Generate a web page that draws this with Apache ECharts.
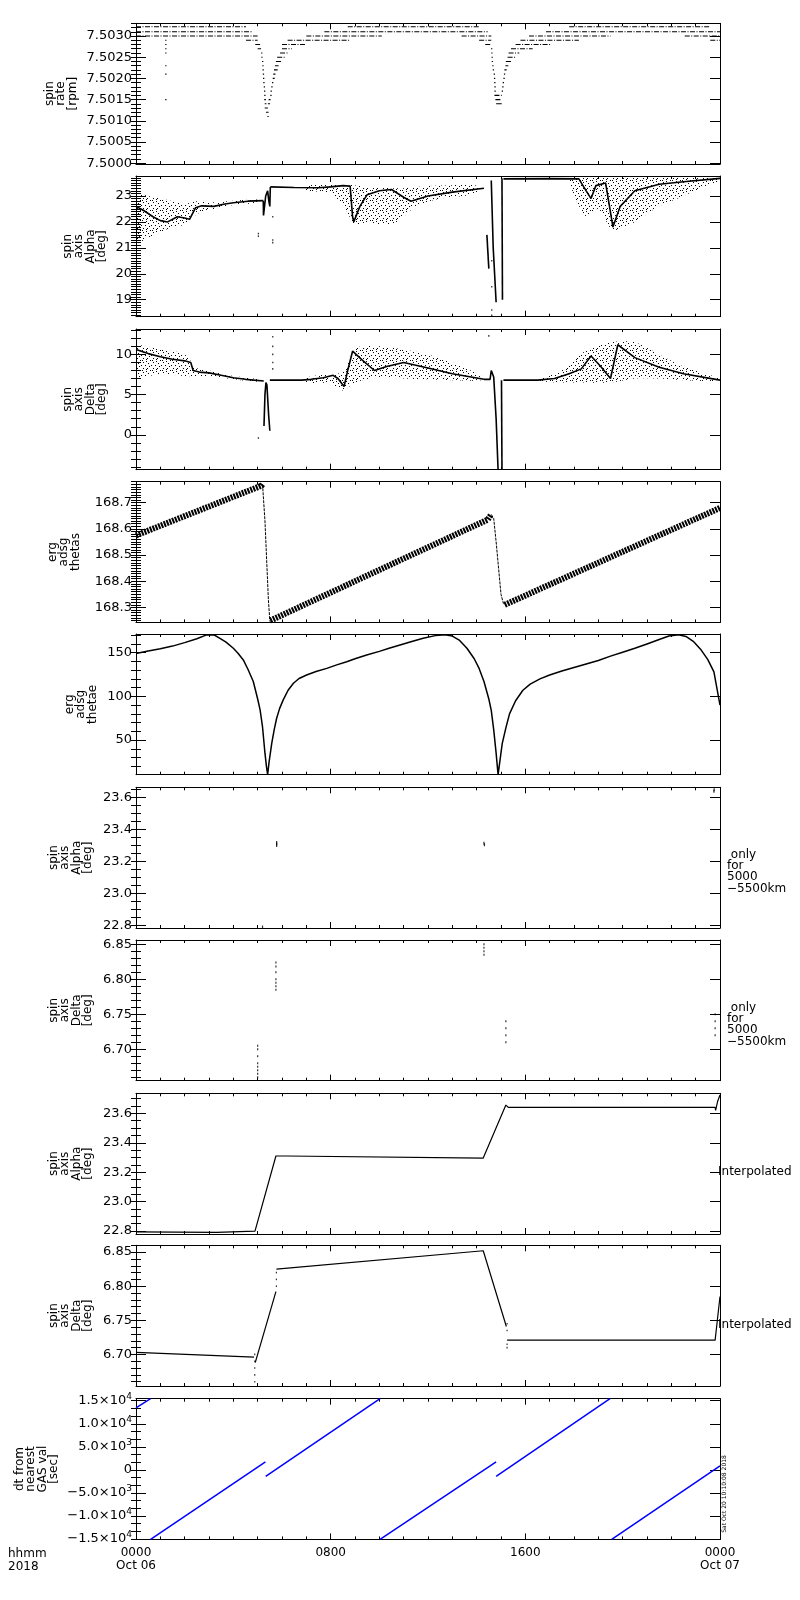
<!DOCTYPE html>
<html><head><meta charset="utf-8">
<script src="https://cdn.jsdelivr.net/npm/echarts@6/dist/echarts.min.js"></script>
<style>html,body{margin:0;padding:0;background:#fff}#c{width:800px;height:1600px}</style>
</head><body><div id="c"></div><script>
// ---------------- DATA ----------------
const xTicks = [0, 8, 16, 24];
const xTickLabels = ['0000\nOct 06', '0800', '1600', '0000\nOct 07'];

// Panel 1: spin rate, quantized levels [tStart(h), tEnd(h), rpm]
const spinRateSegs = [
 [0,4.52,7.50322],[8.7,14.1,7.50322],[17.8,23.6,7.50322],
 [0,4.8,7.5031],[7.74,14.45,7.5031],[16.85,24,7.5031],
 [0,5.0,7.5030],[7.0,10.1,7.5030],[13.38,14.6,7.5030],[16.15,19.5,7.5030],[22.55,24,7.5030],
 [4.52,5.0,7.5029],[6.23,8.77,7.5029],[14.1,14.6,7.5029],[15.8,18.2,7.5029],[23.6,24,7.5029],
 [4.9,5.1,7.5028],[6.0,7.0,7.5028],[14.35,14.6,7.5028],[15.6,17.05,7.5028],
 [5.0,5.14,7.5027],[6.0,6.4,7.5027],[14.59,14.6,7.5027],[15.41,16.3,7.5027],
 [5.14,5.15,7.5026],[5.92,6.23,7.5026],[14.6,14.6,7.5026],[15.31,15.75,7.5026],
 [5.15,5.16,7.5025],[5.8,6.17,7.5025],[14.61,14.61,7.5025],[15.27,15.62,7.5025],
 [5.18,5.18,7.5024],[5.75,5.96,7.5024],[14.62,14.62,7.5024],[15.2,15.41,7.5024],
 [5.19,5.19,7.5023],[5.71,5.86,7.5023],[14.64,14.64,7.5023],[15.18,15.3,7.5023],
 [5.2,5.2,7.5022],[5.67,5.82,7.5022],[14.66,14.66,7.5022],[15.14,15.23,7.5022],
 [5.21,5.21,7.5021],[5.64,5.73,7.5021],[14.7,14.7,7.5021],[15.12,15.12,7.5021],
 [5.22,5.22,7.5020],[5.62,5.7,7.5020],[14.71,14.71,7.5020],[15.1,15.1,7.5020],
 [5.23,5.23,7.5019],[5.59,5.6,7.5019],[14.72,14.72,7.5019],[15.07,15.07,7.5019],
 [5.25,5.25,7.5018],[5.56,5.57,7.5018],[14.73,14.73,7.5018],[15.05,15.05,7.5018],
 [5.26,5.26,7.5017],[5.53,5.54,7.5017],[14.73,14.73,7.5017],[15.03,15.03,7.5017],
 [5.27,5.27,7.5016],[5.52,5.53,7.5016],[14.73,15.03,7.5016],
 [5.27,5.34,7.5015],[5.45,5.53,7.5015],[14.77,15.03,7.5015],
 [5.29,5.36,7.5014],[5.42,5.51,7.5014],[14.8,15.03,7.5014],
 [5.29,5.42,7.5013],[5.34,5.45,7.5012],[5.4,5.41,7.5011],
 [1.2,1.2,7.5029],[1.2,1.2,7.5028],[1.2,1.2,7.5027],[1.2,1.2,7.5026],[1.2,1.2,7.5023],[1.2,1.2,7.5021],[1.2,1.2,7.5015]
];

// Panel 2: spin axis Alpha [deg]
const alphaCore1 = [[0,22.6],[0.3,22.45],[0.7,22.2],[1.0,22.05],[1.3,22.0],[1.7,22.2],[2.0,22.15],[2.2,22.1],[2.45,22.55],[2.7,22.62],[3.2,22.6],[3.6,22.68],[4.0,22.74],[4.6,22.8],[5.23,22.82]];
const alphaCore2 = [[5.23,22.82],[5.24,22.25],[5.28,22.3],[5.33,23.0],[5.41,23.2],[5.46,22.8],[5.5,22.6],[5.52,23.35]];
const alphaCore3 = [[5.52,23.35],[6.5,23.33],[7.5,23.32],[8.0,23.35],[8.5,23.4],[8.8,23.38],[8.9,22.2],[8.95,22.0],[9.2,22.6],[9.5,23.05],[10.0,23.2],[10.5,23.25],[11.0,22.95],[11.3,22.8],[12.0,23.0],[13.0,23.15],[14.3,23.3]];
const alphaCore4 = [[14.42,21.5],[14.5,20.2]];
const alphaCore5 = [[14.6,23.6],[14.68,21.0],[14.8,18.9]];
const alphaCore6 = [[15.04,23.68],[15.06,19.0]];
const alphaCore7 = [[15.1,23.66],[17.0,23.67],[18.2,23.66],[18.5,23.2],[18.7,22.9],[18.9,23.4],[19.3,23.5],[19.6,21.8],[19.9,22.6],[20.5,23.2],[21.5,23.45],[22.5,23.55],[24,23.68]];
const alphaDots = [[5.03,21.45],[5.03,21.55],[5.62,22.2],[5.62,21.3],[5.62,21.2],[14.62,20.5],[14.62,19.5],[14.62,18.6],[14.62,18.4]];
const alphaCloud1 = [[0,21.2,23.1],[0.5,21.4,23.0],[1.0,21.6,22.9],[1.5,21.8,22.8],[2.0,21.9,22.7],[2.5,22.3,22.8],[3.0,22.45,22.75],[4.0,22.65,22.82],[5.0,22.75,22.86]];
const alphaCloud2 = [[7.0,23.2,23.4],[8.0,23.1,23.45],[8.6,22.5,23.45],[9.0,21.9,23.4],[9.5,22.0,23.35],[10.0,21.9,23.35],[10.5,21.9,23.3],[11.0,22.2,23.3],[11.5,22.6,23.35],[12.5,22.9,23.4],[14.0,23.1,23.4]];
const alphaCloud3 = [[17.8,23.5,23.75],[18.5,22.2,23.75],[19.0,22.5,23.75],[19.6,21.7,23.75],[20.5,22.0,23.75],[21.5,22.6,23.75],[22.5,23.0,23.75],[23.5,23.4,23.75],[24,23.55,23.75]];

// Panel 3: spin axis Delta [deg]
const deltaCore1 = [[0,10.6],[0.5,10.1],[1.0,9.7],[1.5,9.4],[2.0,9.2],[2.25,9.0],[2.35,8.0],[2.6,7.8],[3.0,7.7],[3.5,7.4],[4.0,7.1],[4.5,6.9],[5.25,6.7]];
const deltaCore2 = [[5.26,1.1],[5.3,5.0],[5.34,6.5],[5.38,6.2],[5.45,2.5],[5.5,0.5]];
const deltaCore3 = [[5.5,6.8],[6.8,6.8],[7.2,6.9],[7.7,7.1],[8.1,7.4],[8.3,7.0],[8.55,6.0],[8.7,8.0],[8.9,10.4],[9.3,9.3],[9.8,8.0],[10.3,8.5],[11.0,9.0],[12.0,8.3],[13.0,7.6],[14.3,6.9]];
const deltaCore4 = [[14.3,6.9],[14.55,6.9],[14.6,8.0],[14.65,8.2],[14.7,7.2],[14.8,2.0],[14.88,-4.34]];
const deltaCore5 = [[15.02,6.8],[15.04,-4.34]];
const deltaCore6 = [[15.1,6.8],[16.5,6.8],[17.2,7.0],[17.8,7.6],[18.3,8.2],[18.7,9.8],[19.1,8.5],[19.5,7.0],[19.8,11.2],[20.5,9.6],[21.5,8.4],[22.5,7.6],[24,6.8]];
const deltaDots = [[5.03,-0.4],[5.62,12.2],[5.62,11.0],[5.62,10.0],[5.62,9.0],[5.62,8.2],[14.5,12.3]];
const deltaCloud1 = [[0,7.2,11.0],[1.0,7.6,10.6],[2.0,7.3,10.0],[2.5,7.3,8.3],[3.0,7.3,8.0],[4.0,6.9,7.3],[5.0,6.6,6.9]];
const deltaCloud2 = [[7.0,6.5,7.1],[8.0,6.4,7.6],[8.5,5.5,7.8],[9.0,6.5,10.7],[10.0,7.2,11.0],[11.0,7.0,10.6],[12.0,6.9,10.0],[13.0,6.8,9.0],[14.2,6.8,7.3]];
const deltaCloud3 = [[16.5,6.7,6.9],[17.5,6.5,8.0],[18.5,6.5,10.5],[19.5,6.5,11.5],[20.5,7.0,11.5],[21.5,7.0,10.0],[22.5,6.8,8.5],[24,6.7,7.0]];

// Panel 4: erg adsg thetas
const thetasRamp1 = [[0,168.575],[5.16,168.765],[5.2,168.77]];
const thetasDrop1 = [[5.2,168.77],[5.3,168.63],[5.37,168.48],[5.44,168.33],[5.5,168.25],[5.52,168.245]];
const thetasRamp2 = [[5.52,168.25],[10.85,168.48],[14.45,168.635],[14.6,168.655]];
const thetasDrop2 = [[14.6,168.655],[14.7,168.64],[14.8,168.55],[14.9,168.45],[15.0,168.35],[15.1,168.315],[15.15,168.31]];
const thetasRamp3 = [[15.15,168.31],[24,168.68]];

// Panel 5: erg adsg thetae
const thetae = [[0,149],[0.5,152],[1.0,154.5],[1.5,157.5],[2.0,161.5],[2.5,166],[2.9,170.3],[3.2,170.5],[3.45,166.4],[3.7,162],[4.0,155],[4.2,149],[4.41,141.7],[4.6,131],[4.82,117],[5.0,97],[5.1,84.6],[5.2,65],[5.3,35],[5.36,20],[5.41,10.5],[5.47,25],[5.58,46.6],[5.68,62],[5.78,75],[5.9,86],[6.05,96],[6.25,107],[6.47,115],[6.7,120.5],[7.01,124.5],[7.4,128.5],[7.84,132],[8.25,136],[8.66,139.7],[9.0,143],[9.48,147.4],[10.0,151.5],[10.4,155],[10.85,158.8],[11.3,162.5],[11.8,166.5],[12.3,169.5],[12.7,170.5],[13.0,169],[13.3,164],[13.6,155],[13.9,143],[14.1,132],[14.3,117],[14.5,97],[14.6,84],[14.7,62],[14.8,35],[14.88,10.5],[14.95,25],[15.05,46],[15.2,64],[15.35,80],[15.6,95],[15.9,107],[16.2,114],[16.6,120],[17.0,124.5],[17.5,129],[18.0,133],[18.5,137],[19.0,141],[19.5,146],[20.0,150.5],[20.5,155],[21.0,160],[21.5,165],[21.9,169],[22.3,170.5],[22.6,168.5],[22.9,163],[23.2,154],[23.5,142],[23.75,128],[24,90]];

// Panel 6: spin axis Alpha, only 5000-5500 km
const alpha5000 = [[5.2,22.79],[5.78,23.32],[5.78,23.31],[5.78,23.30],[14.3,23.315],[14.32,23.305],[23.75,23.64],[23.76,23.65]];
// Panel 7: spin axis Delta, only 5000-5500 km
const delta5000 = [[5.75,6.824],[5.75,6.818],[5.75,6.81],[5.75,6.80],[5.75,6.795],[5.75,6.79],[5.75,6.785],
 [5.0,6.705],[5.0,6.70],[5.0,6.69],[5.0,6.68],[5.0,6.675],[5.0,6.67],[5.0,6.665],[5.0,6.66],
 [14.3,6.85],[14.3,6.845],[14.3,6.84],[14.3,6.835],[15.2,6.74],[15.2,6.73],[15.2,6.72],[15.2,6.71],
 [23.8,6.75],[23.8,6.74],[23.8,6.73],[23.8,6.72]];
// Panel 8: interpolated Alpha
const alphaInterp = [[0,22.795],[3.31,22.791],[3.31,22.80],[4.89,22.80],[4.9,22.79],[5.75,23.31],[6.19,23.31],[6.2,23.30],[14.27,23.296],[15.2,23.656],[15.3,23.64],[23.8,23.64],[23.82,23.62],[23.9,23.68],[24,23.724]];
// Panel 9: interpolated Delta
const deltaInterp1 = [[0,6.703],[4.85,6.696]];
const deltaInterp2 = [[4.9,6.688],[5.75,6.792]];
const deltaInterp3 = [[5.77,6.825],[14.27,6.852],[15.22,6.741]];
const deltaInterp4 = [[15.25,6.721],[23.8,6.721],[24,6.785]];
const deltaInterpDots = [[4.88,6.70],[4.88,6.69],[4.88,6.68],[4.88,6.67],[4.88,6.66],[5.77,6.80],[5.77,6.81],[5.77,6.82],[15.25,6.745],[15.25,6.735],[15.25,6.715],[15.25,6.71]];
// Panel 10: dt from nearest GAS val [sec]
const dt1 = [[0,13465],[0.6,15435]];
const dt2 = [[0.6,-15065],[5.32,1754]];
const dt3 = [[5.33,-1381],[10.03,15435]];
const dt4 = [[10.03,-15065],[14.8,1754]];
const dt5 = [[14.8,-1381],[19.48,15435]];
const dt6 = [[19.55,-15065],[24,877]];

// Y axes: ranges, tick values, labels
const panels = [
 {min:7.49998, max:7.5033, major:[7.5000,7.5005,7.5010,7.5015,7.5020,7.5025,7.5030], labels:['7.5000','7.5005','7.5010','7.5015','7.5020','7.5025','7.5030'], step:0.0001, title:'spin\nrate\n[rpm]', tx:61},
 {min:18.344, max:23.771, major:[19,20,21,22,23], labels:['19','20','21','22','23'], step:0.1, title:'spin\naxis\nAlpha\n[deg]', tx:85},
 {min:-4.34, max:13.16, major:[0,5,10], labels:['0','5','10'], step:1, title:'spin\naxis\nDelta\n[deg]', tx:85},
 {min:168.243, max:168.780, major:[168.3,168.4,168.5,168.6,168.7], labels:['168.3','168.4','168.5','168.6','168.7'], step:0.01, title:'erg\nadsg\nthetas', tx:64},
 {min:10.4, max:171.35, major:[50,100,150], labels:['50','100','150'], step:10, title:'erg\nadsg\nthetae', tx:81},
 {min:22.784, max:23.665, major:[22.8,23.0,23.2,23.4,23.6], labels:['22.8','23.0','23.2','23.4','23.6'], step:0.05, title:'spin\naxis\nAlpha\n[deg]', tx:71},
 {min:6.655, max:6.856, major:[6.70,6.75,6.80,6.85], labels:['6.70','6.75','6.80','6.85'], step:0.01, title:'spin\naxis\nDelta\n[deg]', tx:71},
 {min:22.780, max:23.736, major:[22.8,23.0,23.2,23.4,23.6], labels:['22.8','23.0','23.2','23.4','23.6'], step:0.05, title:'spin\naxis\nAlpha\n[deg]', tx:71},
 {min:6.6537, max:6.860, major:[6.70,6.75,6.80,6.85], labels:['6.70','6.75','6.80','6.85'], step:0.01, title:'spin\naxis\nDelta\n[deg]', tx:71},
 {min:-15065, max:15435, major:[-15000,-10000,-5000,0,5000,10000,15000], labels:['{a|−1.5×10}{s|4}','{a|−1.0×10}{s|4}','{a|−5.0×10}{s|3}','{a|0}','{a|5.0×10}{s|3}','{a|1.0×10}{s|4}','{a|1.5×10}{s|4}'], step:5000/3, title:'dt from\nnearest\nGAS val\n[sec]', tx:37}
];

// ---------------- LAYOUT / STYLE ----------------
const LEFT = 136, WIDTH = 584, H = 140.7;
const tops = [23.3,176,329,481.7,634,787.3,940,1093.3,1245.3,1398.7];
const FONT = 'DejaVu Sans';
const BLACK = '#000';

const pat = document.createElement('canvas'); pat.width = 10; pat.height = 10;
const pctx = pat.getContext('2d'); pctx.fillStyle = '#000';
[[0,0],[6,1],[3,2],[8,3],[1,5],[5,5],[9,6],[3,8],[7,8],[6,9],[2,0]].forEach(p => pctx.fillRect(p[0], p[1], 1, 1));
const speckle = {image: pat, repeat: 'repeat'};

const grids = [], xAxes = [], yAxes = [], series = [], graphics = [];
const yMajorIdx = [];

function minorValues(p) {
  const out = [];
  const k0 = Math.ceil((p.min - p.major[0]) / p.step - 1e-6);
  for (let k = k0; ; k++) {
    const v = p.major[0] + k * p.step;
    if (v > p.max + 1e-9) break;
    out.push(+v.toPrecision(10));
  }
  return out;
}

panels.forEach((p, i) => {
  grids.push({left: LEFT, width: WIDTH, top: tops[i], height: H, show: false});
  const xBase = {gridIndex: i, type: 'value', min: 0, max: 24, interval: 8,
    axisLine: {show: true, onZero: false, lineStyle: {color: BLACK, width: 1}},
    axisTick: {show: true, inside: true, length: 6, lineStyle: {color: BLACK}},
    minorTick: {show: true, splitNumber: 8, length: 3, lineStyle: {color: BLACK}},
    splitLine: {show: false}, minorSplitLine: {show: false}};
  xAxes.push(Object.assign({}, xBase, {position: 'bottom',
    axisLabel: {show: i === 9, margin: 7, color: BLACK, fontFamily: FONT, fontSize: 12, lineHeight: 13,
      formatter: v => { const k = xTicks.indexOf(v); return k >= 0 ? xTickLabels[k] : ''; }}}));
  xAxes.push(Object.assign({}, xBase, {position: 'top', axisLabel: {show: false}}));
  const minors = minorValues(p);
  const yBase = {gridIndex: i, type: 'value', min: p.min, max: p.max, splitLine: {show: false}};
  yMajorIdx.push(yAxes.length);
  yAxes.push(Object.assign({}, yBase, {position: 'left',
    axisLine: {show: true, onZero: false, lineStyle: {color: BLACK, width: 1}},
    axisTick: {show: true, inside: true, length: 10, customValues: p.major, lineStyle: {color: BLACK}},
    axisLabel: {show: true, customValues: p.major, margin: 4, color: BLACK, fontFamily: FONT, fontSize: 13,
      formatter: v => { let k = 0, d = 1e99; p.major.forEach((m, j) => { if (Math.abs(m - v) < d) { d = Math.abs(m - v); k = j; } }); return p.labels[k]; },
      rich: {a: {fontFamily: FONT, fontSize: 13, color: BLACK}, s: {fontFamily: FONT, fontSize: 9, color: BLACK, verticalAlign: 'top', padding: [0,0,8,0]}}}}));
  yAxes.push(Object.assign({}, yBase, {position: 'right',
    axisLine: {show: true, onZero: false, lineStyle: {color: BLACK, width: 1}},
    axisTick: {show: true, inside: true, length: 10, customValues: p.major, lineStyle: {color: BLACK}},
    axisLabel: {show: false}}));
  yAxes.push(Object.assign({}, yBase, {position: 'left', axisLine: {show: false},
    axisTick: {show: true, inside: true, length: 5, customValues: minors, lineStyle: {color: BLACK}}, axisLabel: {show: false}}));
  yAxes.push(Object.assign({}, yBase, {position: 'right', axisLine: {show: false},
    axisTick: {show: true, inside: true, length: 5, customValues: minors, lineStyle: {color: BLACK}}, axisLabel: {show: false}}));
  graphics.push({type: 'text', x: p.tx, y: tops[i] + H / 2, rotation: Math.PI / 2,
    style: {text: p.title, fill: BLACK, font: '12px "' + FONT + '"', textAlign: 'center', textVerticalAlign: 'middle', lineHeight: 11.5}});
});

function ax(i) { return {xAxisIndex: 2 * i, yAxisIndex: yMajorIdx[i]}; }
function line(i, data, opts) {
  opts = opts || {};
  series.push(Object.assign({type: 'line', data: data, showSymbol: false, symbol: 'none', clip: true, silent: true,
    lineStyle: {color: opts.color || BLACK, width: opts.width || 1, type: opts.dash || 'solid'}}, ax(i)));
}
function dots(i, data, size) {
  series.push(Object.assign({type: 'scatter', data: data, symbol: 'rect', symbolSize: size || [1.3, 1.6], clip: true, silent: true,
    itemStyle: {color: BLACK}}, ax(i)));
}
function cloud(i, regions) {
  series.push(Object.assign({type: 'custom', clip: true, silent: true,
    data: regions.map(r => [r[0][0], r[0][1]]),
    renderItem: (params, api) => {
      const r = regions[params.dataIndex];
      const pts = r.map(q => api.coord([q[0], q[2]])).concat(r.slice().reverse().map(q => api.coord([q[0], q[1]])));
      return {type: 'polygon', shape: {points: pts, smooth: 0.3}, style: {fill: speckle, stroke: null}};
    }}, ax(i)));
}
function segs(i, list) {
  series.push(Object.assign({type: 'custom', clip: true, silent: true,
    data: list.map(s => [s[0], s[2]]),
    renderItem: (params, api) => {
      const s = list[params.dataIndex];
      const a = api.coord([s[0], s[2]]), b = api.coord([s[1], s[2]]);
      return {type: 'line', shape: {x1: a[0], y1: a[1], x2: Math.max(b[0], a[0] + 1.3), y2: a[1]},
        style: {stroke: BLACK, lineWidth: 1.1, lineDash: (b[0] - a[0] > 6) ? [5, 1.5, 1, 1.5] : null}};
    }}, ax(i)));
}

// Panel 1
segs(0, spinRateSegs);
// Panel 2
cloud(1, [alphaCloud1, alphaCloud2, alphaCloud3]);
[alphaCore1, alphaCore2, alphaCore3, alphaCore4, alphaCore5, alphaCore6, alphaCore7].forEach(d => line(1, d, {width: 1.6}));
dots(1, alphaDots);
// Panel 3
cloud(2, [deltaCloud1, deltaCloud2, deltaCloud3]);
[deltaCore1, deltaCore2, deltaCore3, deltaCore4, deltaCore5, deltaCore6].forEach(d => line(2, d, {width: 1.6}));
dots(2, deltaDots);
// Panel 4
[thetasRamp1, thetasRamp2, thetasRamp3].forEach(d => line(3, d, {width: 6, dash: [2, 1]}));
[thetasDrop1, thetasDrop2].forEach(d => line(3, d, {width: 1, dash: [3, 1]}));
// Panel 5
line(4, thetae, {width: 1.5});
// Panel 6, 7
dots(5, alpha5000, [1.2, 3]);
dots(6, delta5000, [1.2, 2]);
// Panel 8, 9
line(7, alphaInterp, {width: 1.2});
[deltaInterp1, deltaInterp2, deltaInterp3, deltaInterp4].forEach(d => line(8, d, {width: 1.2}));
dots(8, deltaInterpDots, [1.2, 1.6]);
// Panel 10
[dt1, dt2, dt3, dt4, dt5, dt6].forEach(d => line(9, d, {width: 1.5, color: '#0000ff'}));

// Side texts
const sideFont = '12px "' + FONT + '"';
graphics.push({type: 'text', x: 727, y: 849, style: {text: ' only\nfor\n5000\n−5500km', fill: BLACK, font: sideFont, lineHeight: 11.3, textAlign: 'left', textVerticalAlign: 'top'}});
graphics.push({type: 'text', x: 727, y: 1002, style: {text: ' only\nfor\n5000\n−5500km', fill: BLACK, font: sideFont, lineHeight: 11.3, textAlign: 'left', textVerticalAlign: 'top'}});
graphics.push({type: 'text', x: 718, y: 1171.7, style: {text: 'Interpolated', fill: BLACK, font: sideFont, textAlign: 'left', textVerticalAlign: 'middle'}});
graphics.push({type: 'text', x: 718, y: 1325, style: {text: 'Interpolated', fill: BLACK, font: sideFont, textAlign: 'left', textVerticalAlign: 'middle'}});
graphics.push({type: 'text', x: 8, y: 1547, style: {text: 'hhmm\n2018', fill: BLACK, font: sideFont, lineHeight: 13, textAlign: 'left', textVerticalAlign: 'top'}});
graphics.push({type: 'text', x: 724.5, y: 1494, rotation: Math.PI / 2, style: {text: 'Sat Oct 20 10:10:08 2018', fill: BLACK, font: '6px "' + FONT + '"', textAlign: 'center', textVerticalAlign: 'middle'}});

const chart = echarts.init(document.getElementById('c'), null, {renderer: 'canvas', width: 800, height: 1600});
chart.setOption({animation: false, backgroundColor: '#fff', grid: grids, xAxis: xAxes, yAxis: yAxes, series: series, graphic: graphics});
</script></body></html>
